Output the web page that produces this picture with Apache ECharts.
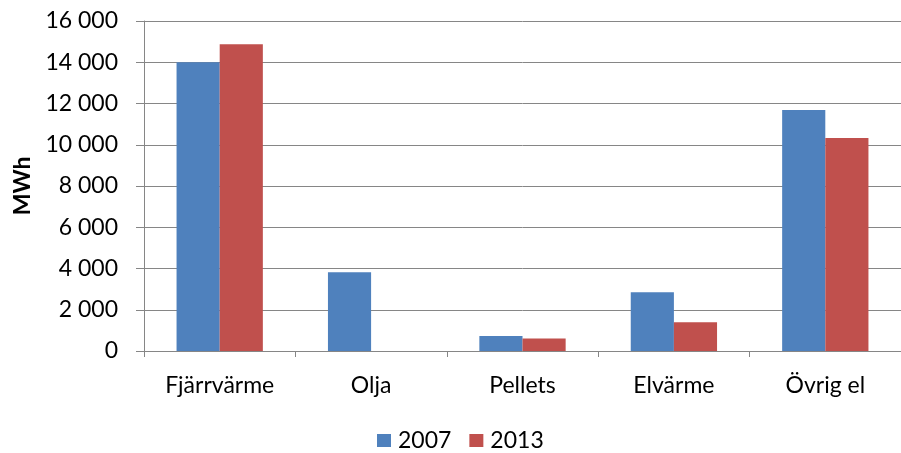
<!DOCTYPE html>
<html>
<head>
<meta charset="utf-8">
<script src="https://cdn.jsdelivr.net/npm/echarts@6/dist/echarts.min.js"></script>
<style>
html,body{margin:0;padding:0;background:#fff;}
#chart{width:901px;height:453px;}
</style>
</head>
<body>
<div id="chart"></div>
<script>
var categories = ['Fjärrvärme', 'Olja', 'Pellets', 'Elvärme', 'Övrig el'];
var values2007 = [14000, 3820, 730, 2850, 11690];
var values2013 = [14870, 0, 610, 1390, 10330];
var seriesNames = ['2007', '2013'];
var yTicks = {min: 0, max: 16000, interval: 2000};
var yAxisTitle = 'MWh';

var font = 'Lato, Carlito, "Open Sans", sans-serif';
var fs = 23;
var chart = echarts.init(document.getElementById('chart'), null, {renderer: 'canvas'});
chart.setOption({
  animation: false,
  backgroundColor: '#ffffff',
  color: ['#4F81BD', '#C0504D'],
  textStyle: {fontFamily: font},
  grid: {left: 144, right: -11, top: 21, bottom: 102, containLabel: false},
  legend: {
    bottom: -4,
    left: 372,
    itemWidth: 14,
    itemHeight: 13,
    itemGap: 18,
    icon: 'rect',
    textStyle: {fontFamily: font, fontSize: fs, color: '#000', padding: [0, 0, 0, 2]},
    data: seriesNames
  },
  xAxis: {
    type: 'category',
    data: categories,
    axisLine: {lineStyle: {color: '#868686', width: 1}},
    axisTick: {show: true, alignWithLabel: false, length: 6, lineStyle: {color: '#868686'}},
    axisLabel: {color: '#000', fontSize: fs, fontFamily: font, margin: 23}
  },
  yAxis: {
    type: 'value',
    min: yTicks.min,
    max: yTicks.max,
    interval: yTicks.interval,
    name: yAxisTitle,
    nameLocation: 'middle',
    nameGap: 110,
    nameTextStyle: {fontFamily: font, fontSize: fs, fontWeight: 'bold', color: '#000'},
    axisLine: {show: true, lineStyle: {color: '#868686', width: 1}},
    axisTick: {show: true, inside: false, length: 8, lineStyle: {color: '#868686'}},
    splitLine: {show: true, lineStyle: {color: '#868686', width: 1}},
    axisLabel: {
      color: '#000', fontSize: fs, fontFamily: font, margin: 26,
      formatter: function (v) { return String(v).replace(/\B(?=(\d{3})+(?!\d))/g, ' '); }
    }
  },
  series: [
    {name: seriesNames[0], type: 'bar', data: values2007, barGap: '0%', barCategoryGap: '43%'},
    {name: seriesNames[1], type: 'bar', data: values2013, barGap: '0%', barCategoryGap: '43%'}
  ]
});
</script>
</body>
</html>
